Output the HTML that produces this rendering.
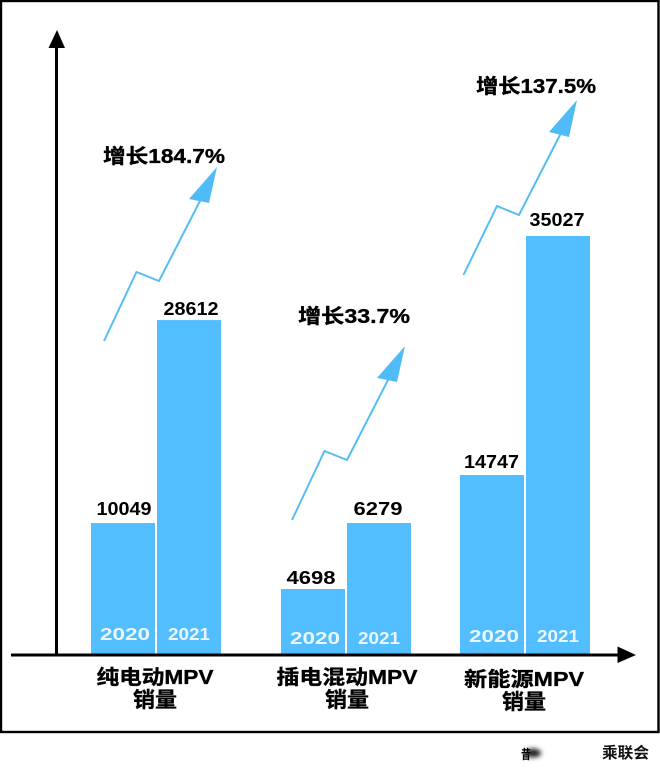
<!DOCTYPE html>
<html lang="zh">
<head>
<meta charset="utf-8">
<title>MPV 销量对比</title>
<style>
html,body{margin:0;padding:0;background:#fff;}
body{width:660px;height:773px;overflow:hidden;}
svg{display:block;}
text{font-family:"Liberation Sans","Noto Sans CJK SC",sans-serif;font-weight:700;}
.heavy{stroke:#000;stroke-width:0.35px;}
</style>
</head>
<body>
<svg id="chart" xmlns="http://www.w3.org/2000/svg" width="660" height="773" viewBox="0 0 660 773">
  <defs>
    <filter id="smudge-blur" x="-50%" y="-50%" width="200%" height="200%"><feGaussianBlur stdDeviation="2.4"/></filter>
  </defs>
  <rect x="0" y="0" width="660" height="773" fill="#ffffff"/>
  <rect x="1" y="1" width="657.5" height="731" fill="none" stroke="#000000" stroke-width="2.4"/>

  <g id="bars"></g>

  <g>
    <line x1="56.5" y1="655" x2="56.5" y2="46" stroke="#000" stroke-width="3"/>
    <polygon points="57,30 48.5,48 65,48" fill="#000"/>
  </g>
  <g>
    <line x1="11" y1="655" x2="620" y2="655" stroke="#000" stroke-width="3"/>
    <polygon points="636,655 617.5,646.5 617.5,663" fill="#000"/>
  </g>

  <g>
    <polyline points="104,341 136.5,272 159,281 201,199" fill="none" stroke="#56BDF2" stroke-width="2"/>
    <polygon points="217,167 189,199 209,203" fill="#4FBCF8"/>
  </g>
  <g>
    <polyline points="292,520 324.5,451 347,460 389,378" fill="none" stroke="#56BDF2" stroke-width="2"/>
    <polygon points="405,346 377,378 397,382" fill="#4FBCF8"/>
  </g>
  <g>
    <polyline points="463.5,275 497,206 519,215 561,133" fill="none" stroke="#56BDF2" stroke-width="2"/>
    <polygon points="577,100 549,132 569,137" fill="#4FBCF8"/>
  </g>

  <text class="heavy" x="103" y="163" font-size="20" textLength="122" lengthAdjust="spacingAndGlyphs" fill="#000">增长184.7%</text>
  <text class="heavy" x="298" y="323" font-size="20" textLength="112" lengthAdjust="spacingAndGlyphs" fill="#000">增长33.7%</text>
  <text class="heavy" x="476" y="93" font-size="20" textLength="120" lengthAdjust="spacingAndGlyphs" fill="#000">增长137.5%</text>

  <g>
    <ellipse cx="533" cy="753" rx="8" ry="4.5" fill="#222" filter="url(#smudge-blur)"/>
    <text x="521" y="759" font-size="13" textLength="10" lengthAdjust="spacingAndGlyphs" fill="#000">昔</text>
    <text x="602" y="758" font-size="15.5" textLength="47" lengthAdjust="spacingAndGlyphs" fill="#111">乘联会</text>
  </g>
</svg>
<script>
// Chart data
const categoriesLine1 = ["纯电动MPV", "插电混动MPV", "新能源MPV"];
const categoriesLine2 = ["销量", "销量", "销量"];
const seriesYears = ["2020", "2021"];
const values2020 = [10049, 4698, 14747];
const values2021 = [28612, 6279, 35027];
// The source artwork is not drawn to a strict scale: these dimensionless
// factors record how much each bar departs from the linear axis.
const artworkFactor2020 = [1.092, 1.159, 1.017];
const artworkFactor2021 = [0.978, 1.748, 1];

// Axis functions
const baselineY = 654;
const unitsPerPixel = 35027 / 418;
function valueToHeight(v, factor) { return (v / unitsPerPixel) * factor; }
function groupLeft(i) { return 91 + i * 184.5 + (i === 1 ? 5.5 : 0); }
function barLeft(groupIndex, seriesIndex) { return groupLeft(groupIndex) + seriesIndex * 66; }
const barWidth = 64;

const svgNS = "http://www.w3.org/2000/svg";
const layer = document.getElementById("bars");

function makeText(str, x, y, size, width, fill) {
  const t = document.createElementNS(svgNS, "text");
  t.textContent = str;
  t.setAttribute("x", x);
  t.setAttribute("y", y);
  t.setAttribute("font-size", size);
  t.setAttribute("fill", fill);
  t.setAttribute("text-anchor", "middle");
  t.setAttribute("textLength", width);
  t.setAttribute("lengthAdjust", "spacingAndGlyphs");
  return t;
}

// Small per-label layout nudges seen in the hand-placed artwork
function labelGap(seriesIndex, i) {
  if (seriesIndex === 0) { return i === 0 ? 8 : i === 1 ? 5 : 7; }
  return i === 0 ? 5 : i === 1 ? 8 : 10;
}
function labelNudge(seriesIndex, i) {
  if (seriesIndex === 0) { return i === 0 ? 1 : i === 1 ? -2 : -0.5; }
  return i === 0 ? 2 : -1;
}

function drawSeries(values, factors, seriesIndex, year) {
  values.forEach(function (v, i) {
    const h = valueToHeight(v, factors[i]);
    const x = barLeft(i, seriesIndex);
    const top = baselineY - h;
    const rect = document.createElementNS(svgNS, "rect");
    rect.setAttribute("x", x);
    rect.setAttribute("y", top);
    rect.setAttribute("width", barWidth);
    rect.setAttribute("height", h);
    rect.setAttribute("fill", "#52BEFF");
    
    
    layer.appendChild(rect);

    const label = String(v);
    const valueText = makeText(label, x + barWidth / 2 + labelNudge(seriesIndex, i), top - labelGap(seriesIndex, i), 18, label.length === 5 ? 55 : 49, "#000");
    
    
    layer.appendChild(valueText);

    const yearY = baselineY - 14 + (i === 1 ? 4 : i === 2 ? 2 : 0);
    const yearWidth = seriesIndex === 0 ? 50 : 42;
    const yearText = makeText(year, x + barWidth / 2 + (seriesIndex === 0 ? 2 : 0), yearY, 17.5, yearWidth, "#EAF7FF");
    
    
    layer.appendChild(yearText);
  });
}

drawSeries(values2020, artworkFactor2020, 0, seriesYears[0]);
drawSeries(values2021, artworkFactor2021, 1, seriesYears[1]);

categoriesLine1.forEach(function (c, i) {
  const center = groupLeft(i) + 65 + (i === 2 ? -1 : 0) + (i === 1 ? 1 : 0) + (i === 0 ? -1 : 0);
  const widths = [117, 141, 120];
  const nudge = i === 2 ? 2 : 0;
  const line1 = makeText(c, center, 684 + nudge, 20, widths[i], "#000");
  line1.setAttribute("class", "heavy");
  
  
  layer.appendChild(line1);
  const line2 = makeText(categoriesLine2[i], center, 707 + nudge, 21, 44, "#000");
  line2.setAttribute("class", "heavy");
  
  
  layer.appendChild(line2);
});
</script>
</body>
</html>
